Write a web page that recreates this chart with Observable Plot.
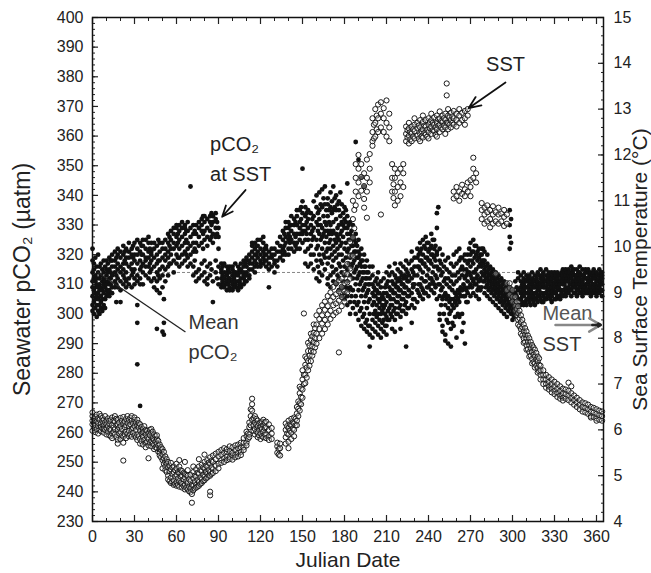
<!DOCTYPE html>
<html><head><meta charset="utf-8">
<script src="https://cdn.jsdelivr.net/npm/d3@7"></script>
<script src="https://cdn.jsdelivr.net/npm/@observablehq/plot@0.6"></script>
<style>body{margin:0;background:#fff;}</style>
</head><body><div id="chart"></div>
<script>
// Seawater pCO2 (µatm): rows of [julian day, readings...]
const pco2Rows = [
[0,301,306,309,314,318,322,311,303],[1,304,300,312,317,308,315],[2,307,302,311,305,319,313,309],[3,299,310,306,316,303,312],
[4,305,301,314,309,320,307],[5,312,303,308,316,300,310],[6,306,313,302,317,309,304],[7,311,305,315,301,308],[8,303,310,307,314,318,312],
[9,309,305,316,311,302],[10,313,306,310,318,308,315],[11,311,317,307,314],[12,308,315,312,319,306,310],
[13,314,310,318,312],[14,316,309,320,313,307,318],[16,311,318,314,321,309,316],[17,313,319,310,304],[18,320,315,312,317,322,309],
[20,316,311,319,314,321,308,304],[22,313,320,317,310,323,315],[23,318,312,321],[24,314,319,322,311,317,309],[26,321,316,312,319,324,310],
[28,317,322,313,320,315,309],[29,319,314,323],[30,315,320,324,312,318,310],[32,322,317,313,320,325,311,303,297,283],
[34,318,324,315,321,312,310,269],[35,320,316,323],[36,323,317,314,320,325,310],[38,319,325,316,322,313,318],[40,321,316,324,319,326,312],
[41,317,322,314],[42,324,318,321,315,311,320],[44,316,322,319,324,312,309],[46,320,314,323,317,311,308,295],[47,318,325,313],
[48,315,321,318,324,312,307],[50,319,324,316,322,313,309,294],[51,293,297,305],
[52,322,318,325,315,320,311],[54,319,324,327,321,316,313],[55,323,317,326],[56,325,320,328,317,322],[58,322,327,318,324,329,314],
[60,326,320,329,323,317,330],[61,324,319,327],[62,328,322,325,319,330,316],[64,323,329,326,320,331,317],[66,327,321,330,324,318,329],
[67,325,320,328],[68,322,328,324,331,319,316],[70,329,323,326,320,317,343],[72,324,330,321,327,316,313],[73,328,322,318],
[74,321,327,324,330,314,311],[76,326,331,323,329,315,312],[78,330,324,328,332,317,313],[79,327,322,333],[80,325,331,328,333,318,314,311],
[82,332,326,329,323,316,312,310],[84,328,333,325,331,317,313],[85,330,326,334,315],[86,331,327,333,324,311,304],[88,329,334,326,332,318,314],
[89,331,327,312],[90,326,322,329,316,310],
[92,314,310,317,312,309,315],[93,311,316,313],[94,309,314,312,317,310],[96,313,308,316,311,314,310],[97,310,315,312],
[98,312,316,309,314,311,308],[100,315,310,313,308,316,311],[101,312,309,314],[102,310,314,311,317,309,313],[104,313,309,316,311,308,314],
[105,311,315,310],[106,314,310,317,312,309,315],[108,316,312,310,318,313,314],[109,313,317,311],[110,318,314,311,316,313,319],
[112,315,320,313,317,312,318],
[114,321,317,323,315,319,324],[116,318,322,316,320,324,314],[117,320,323,317],[118,323,319,316,321,325],[120,320,325,318,322,317,316],
[122,324,319,321,326,317],[123,322,318,320],[124,318,322,320,316,323],[126,321,317,319,315,309],[128,319,322,316,320],
[130,317,320,314,318,322],[132,321,318,324,316],[134,323,319,326,321],
[136,325,320,328,322,318],[137,323,327,321],[138,329,324,320,326,331],[140,327,322,331,325,320,329],[141,324,330,326],
[142,322,328,333,325,330],[144,330,324,327,332,321],[145,326,331,323],[146,333,327,324,330,322,335],[148,329,335,325,331,327,322],
[149,332,327,336],[150,327,334,330,338,324,328,349],[152,336,330,325,333,328,321,317],[153,331,327,334],[154,329,325,332,335,322,316],
[156,323,330,327,334,320,317],[157,328,332,325],[158,326,333,320,329,338,315],[160,331,325,336,322,340,318,312],
[161,328,334,323,330,316],[162,335,327,320,332,341,314,311],[163,325,330,337,318],[164,329,336,322,342,326,317,313],
[165,333,327,339,320],[166,331,324,337,343,328,319,315],[167,326,335,321,330],[168,337,328,322,333,339,317,312,310],
[169,324,331,327,335,319],[170,330,336,325,341,322,328,313,309],[171,334,327,338,320,316],[172,328,335,323,343,331,318,314,311],
[173,336,325,339,321],[174,332,327,340,324,335,319,315,310],[175,329,337,322,326,313],[176,335,330,320,338,325,317,312,308],
[177,327,333,323,341,316],[178,331,324,337,320,328,314,309,306],[179,326,334,318,330,311],[180,329,322,336,316,332,313,307,305],
[181,324,331,319,335,309],[182,327,321,333,315,329,311,306,303,344],[183,322,330,317,325,308],[184,325,319,331,313,327,309,304,300],
[185,320,328,316,323,306],[186,323,317,330,312,326,308,302,320],[187,318,325,314,321,304],[188,321,315,327,310,324,306,300,358],
[189,316,323,312,319,303],[190,319,313,325,308,321,304,298,352],[191,314,320,310,317,301],[192,316,311,322,306,318,302,296,346],
[193,312,318,308,314,299],[194,314,309,320,304,316,300,295,343],[195,310,316,306,312,297],[196,312,307,318,302,314,298,294],
[197,308,314,304,310,296],[198,310,305,316,300,312,296,293,289],[200,307,303,313,298,310,295,292,316],
[201,304,309,300,306],[202,306,301,311,297,308,294],[203,303,308,299,312],[204,300,305,310,296,307,293,314],[205,302,307,298,304],
[206,305,300,309,295,311,292],[207,301,306,297,303],[208,307,302,312,298,305,294],[209,303,309,300,296],[210,304,299,310,296,307,293,314],
[211,301,306,298,311],[212,306,302,313,298,309,316],[213,303,308,300,305],[214,308,303,314,299,311,295],[215,305,310,301,307],
[216,307,302,313,298,310,294,317],[217,304,309,300,312],[218,309,304,315,300,311,306],[219,306,312,302,308],
[220,308,303,314,299,311,295,317],[221,305,310,301,313],[222,310,305,316,301,312,307],[223,307,313,303,309],
[224,309,304,315,300,312,289,318],[225,306,311,302,314],[226,311,306,317,302,313,308],[228,312,307,318,303,315,297,321],
[229,309,314,305,310],[230,310,305,316,302,313,319],
[232,313,308,319,304,316,322],[233,310,316,307,320],[234,315,310,321,306,318,324],[235,312,318,309,322],[236,314,308,320,305,317,325],
[237,311,317,307,323],[238,316,311,322,307,319,326],[239,313,319,309,324],[240,315,309,321,306,318,324],[241,312,318,310,322],
[242,317,312,323,308,320,327],[243,314,320,311,325],[244,316,310,322,307,319,325],[245,313,318,309,323],
[246,312,316,320,334,329,321,305],[247,336,315,310],
[248,310,315,306,318,300,298,322],[249,313,308,303,317],[250,309,314,305,320,296,294],[251,311,306,316,300],[252,307,312,303,318,293,291],
[253,310,305,315,298],[254,306,312,302,319,297,290],[255,309,304,314,300],[256,305,311,301,317,295,289],[257,308,303,313,297],
[258,310,305,316,302,320,296],[259,307,313,304,299],[260,311,306,317,303,321,292],[261,308,314,305,300],[262,312,307,318,304,322,299],
[263,309,315,306,319],[264,313,308,319,300,316,294],[265,310,315,306,297],[266,312,306,318,309,320,290],[267,315,308,313,304],
[268,311,317,307,320,314,304],[269,314,309,318,322],[270,316,310,320,313,324,306],[271,312,318,309,321],[272,317,311,321,314,325,307],
[273,314,319,310,323],[274,315,310,320,312,323,306],[275,313,318,308,321],[276,316,309,319,311,322,305],[277,312,317,308,320],
[278,314,318,309,322,316,320],
[279,313,317,311,322,318],[280,315,311,318,313,307,321],[281,312,316,309,314],[282,314,310,317,312,306,320],[283,311,315,308,313],
[284,313,309,316,311,305],[285,310,314,307,312],[286,312,308,315,310,304],[287,309,313,306,311],[288,311,307,314,309,303],
[289,308,312,305,310],[290,310,306,313,308,302],[291,307,311,304,309],[292,309,305,312,307,301],[293,306,310,303,308],
[294,308,304,311,306,300],[295,305,309,302,307],[296,307,303,310,305,299],[297,304,308,301,306],[298,306,302,309,304,322,326,330,335],
[299,303,307,300,324,332],[300,305,301,308,303,298],[301,302,306,299,304],[302,304,300,307,302,311],[303,301,306,303,309],
[304,303,308,305,312,300,314],
[306,305,309,303,311,307,313],[307,308,304,310,306],[308,306,310,303,312,308,314],[309,304,309,307,311],[310,307,303,311,305,309,313],
[311,309,305,312,307],[312,306,310,304,313,308,311],[313,308,303,311,306],[314,310,305,312,307,314,309],[315,306,311,304,309],
[316,309,305,313,307,311,303],[317,307,312,305,310],[318,311,306,309,314,304,308],[319,308,313,306,310],[320,310,305,312,307,315,309],
[321,307,311,304,313],[322,312,306,309,314,304,310],[323,309,305,311,307],[324,311,307,313,305,309,315],[325,308,312,306,310],
[326,313,308,310,306,314,311],[327,309,305,312,307],[328,311,306,314,309,304,312],[329,308,313,307,310],[330,310,305,312,307,314,309],
[331,307,311,305,313],[332,312,308,310,306,314,309],[333,309,313,306,311],[334,311,306,313,308,305,310],[335,308,312,307,314],
[336,310,306,313,308,315,311],
[337,312,308,314,310],[338,309,313,307,315,311,306],[339,311,314,308,312],[340,313,309,315,311,307,314],[341,310,314,308,312],
[342,312,308,316,310,306,313],[343,314,309,311,315],[344,311,307,313,309,315,310],[345,309,313,307,312],[346,313,310,315,308,311,306],
[347,310,314,308,312],[348,312,307,314,310,316,309],[349,309,313,311,307],[350,311,315,308,313,306,310],[351,313,309,312,308],
[352,310,314,307,312,315,309],[353,312,308,314,310],[354,314,310,312,307,315,311],[355,309,313,308,311],[356,311,307,314,309,313,306],
[357,313,310,308,312],[358,310,314,307,312,309,315],[359,312,308,313,310],[360,309,313,307,311,314,306],[361,311,308,313,309],
[362,313,309,315,310,307,312],[363,310,314,308,311],[364,312,308,314,306,310,313]
];
// Sea surface temperature (°C): rows of [julian day, readings...]
const sstRows = [
[0,6.12,6.3,5.98,6.2,6.38],[1,6.05,6.24,6.15],[2,6.28,6.1,5.95,6.2],[3,6.18,6.02,6.33],[4,6.08,6.25,5.92,6.15],[5,6.22,6.0,6.35],
[6,5.97,6.14,6.3,6.06],[7,6.2,6.03,6.26],[8,6.1,5.94,6.22,6.02],[9,6.16,6.3,6.0],[10,6.04,6.2,5.9,6.12],[11,6.25,6.08,5.96],
[12,6.14,5.88,6.2,6.02],[13,6.0,6.22,5.86],[14,6.1,5.92,6.27,5.82],[15,6.05,6.2,5.95],[16,6.18,5.9,6.3,6.02],[17,5.84,6.1,6.24],
[18,6.0,6.22,5.78,6.12,5.7],[19,5.92,6.16,6.05],[20,6.08,5.8,6.26,5.95],[21,6.2,5.88,6.02],[22,5.85,6.14,6.28,5.72,5.33],
[23,6.06,5.9,6.18],[24,5.96,6.24,5.82,6.1],[25,6.15,5.92,6.3],[26,5.86,6.08,6.22,5.98],[27,6.12,6.26,5.9],[28,6.02,5.85,6.2,6.3],
[29,5.94,6.14,6.04],[30,6.22,5.88,6.08,6.27],[31,6.0,6.16,5.84],[32,5.9,6.1,6.22,5.78],[33,6.05,5.86,6.15],[34,5.8,5.98,6.12,5.7],
[35,5.92,6.06,5.75],[36,5.85,5.68,6.02,5.95],[37,5.78,5.96,6.08],[38,5.9,5.72,6.0,5.62],[39,5.84,5.98,5.74],[40,5.66,5.92,5.8,5.38],
[41,5.88,5.72,6.0],[42,5.76,5.94,5.64,6.02],[43,5.82,5.7,5.96],[44,5.68,5.9,5.78,5.58],[45,5.74,5.86,5.62],[46,5.6,5.8,5.7,5.88],
[47,5.66,5.52,5.76],[48,5.5,5.68,5.58,5.44],[49,5.56,5.4,5.62],[50,5.46,5.58,5.34,5.16],[51,5.38,5.52,5.26],[52,5.2,5.42,5.3,5.12],
[53,5.08,5.26,5.36],[54,5.0,5.18,4.92,5.3],[55,5.1,4.88,5.22],[56,4.96,5.14,4.84,5.28],[57,5.04,4.86,5.18],[58,4.9,5.08,4.8,5.2],
[59,4.98,4.82,5.12],[60,4.86,5.02,4.78,5.16,5.26],[61,4.94,4.8,5.08],[62,4.88,5.06,4.76,5.2,5.34],[63,4.98,4.84,5.12],
[64,4.82,5.0,4.74,5.1],[65,4.92,4.78,5.06],[66,4.8,4.96,4.7,5.04,5.3],[67,4.88,4.74,5.02],[68,4.84,5.0,4.7,5.12],[69,4.76,4.92,4.66],
[70,4.72,4.88,4.64,5.02],[71,4.41,4.6,4.8],[72,4.78,4.94,4.68,5.08,5.2],[73,4.86,4.72,5.0],[74,4.8,4.98,4.74,5.14],[75,4.9,4.76,5.06],
[76,4.86,5.04,4.78,5.2,5.36],[77,4.96,4.82,5.12],[78,4.92,5.1,4.84,5.24],[79,5.02,4.88,5.18],[80,4.98,5.16,4.9,5.3,5.46],
[81,5.08,4.94,5.22],[82,5.04,5.2,4.96,5.34],[83,5.12,5.0,5.28],[84,5.08,5.26,5.0,5.4,4.57,4.65],[85,5.18,5.04,5.32],
[86,5.14,5.3,5.06,5.44],[88,5.22,5.36,5.1,5.48],[90,5.26,5.42,5.16,5.52],[92,5.34,5.46,5.28,5.56],[94,5.38,5.5,5.3,5.6],
[96,5.42,5.52,5.34,5.58],[98,5.4,5.54,5.36,5.64],[100,5.44,5.5,5.35,5.62],[102,5.46,5.56,5.4,5.66],[104,5.5,5.6,5.42,5.68],
[106,5.52,5.62,5.45,5.72],[108,5.62,5.72,5.56,5.82],[110,5.72,5.86,5.66,5.96],[111,5.8,5.92],[112,5.9,6.06,5.84,6.16],
[113,6.1,6.3,6.45],[114,6.22,6.42,6.68,6.56],[115,6.1,6.26,5.98],[116,6.02,6.16,6.3,5.9],[117,5.96,6.12,6.24],[118,5.94,6.08,6.2,5.84],
[119,6.0,6.14,5.88],[120,5.92,6.06,6.16,5.8],[121,6.02,6.18,5.86],[122,5.96,6.1,6.22,5.84],[123,6.04,5.9,6.16],[124,5.9,6.06,6.18,5.82],
[126,5.86,6.0,6.12,5.78],[128,5.92,6.04,5.8],[132,5.5,5.64,5.72],[133,5.46,5.58],[134,5.44,5.6,5.7],[138,5.84,6.0,6.14,5.7],
[139,5.92,6.08],[140,5.9,6.04,6.2,5.74,5.6],[141,5.98,6.12],[142,5.94,6.1,6.24,5.8],[143,6.02,6.16],[144,6.0,6.14,6.27,5.86],
[145,6.1,6.24],[146,6.2,6.36,6.5,6.1],[147,6.3,6.46,6.62],[148,6.42,6.58,6.8,6.94],[149,6.56,6.72,6.9],[150,6.7,6.88,7.1,7.3],
[151,8.54,7.0,7.2],[152,7.02,7.2,7.42,7.6],[153,7.14,7.36,7.56],[154,7.3,7.5,7.72,7.9],[155,7.4,7.62,7.84],[156,7.5,7.72,7.96,8.1],
[157,7.62,7.82,8.04],[158,7.7,7.92,8.12,8.3],[159,7.8,8.0,8.22],[160,7.88,8.1,8.3,8.5],[162,8.0,8.2,8.42,8.6],[164,8.1,8.32,8.5,8.72],
[166,8.2,8.4,8.62,8.8],[168,8.3,8.52,8.7,8.92],[170,8.42,8.6,8.82,9.0],[172,8.5,8.72,8.9,9.12],[174,8.56,8.76,8.96,9.2],
[176,8.6,8.82,9.02,9.26,7.69],[178,8.7,8.9,9.12,9.3],[180,8.8,9.02,9.2,9.42],[182,9.0,9.22,9.4,9.62],[184,9.3,9.52,9.8,10.1],
[186,9.8,10.2,10.6,11.0],[187,10.4,10.8],[188,10.9,11.2,11.5,11.8],[190,11.1,11.4,11.7,12.0],[192,11.22,11.52,11.8],
[194,11.04,11.32,11.6,10.85],[196,11.2,11.5,11.9,10.63],[198,11.4,11.7,12.02],[200,12.2,12.5,12.8,12.3],[201,12.36,12.66],
[202,12.4,12.7,13.0],[203,12.56,12.86],[204,12.5,12.8,13.1],[206,12.6,12.9,13.15,10.7],[208,12.5,12.8,13.02],[210,12.4,12.7,13.19],
[212,12.3,12.6,12.9],[214,11.2,11.5,11.8],[215,11.06,11.36],[216,10.9,11.2,11.5,11.7],[218,11.0,11.3,11.6],[220,11.1,11.4,11.7],
[222,11.3,11.6,11.8],[224,12.3,12.46,12.62],[225,12.38,12.54],[226,12.25,12.42,12.58,12.7],[227,12.34,12.5],[228,12.3,12.47,12.62],
[229,12.4,12.56],[230,12.36,12.52,12.66,12.8],[232,12.42,12.58,12.7],[233,12.35,12.64],[234,12.46,12.6,12.76,12.3],[235,12.52,12.4],
[236,12.38,12.56,12.72,12.86],[237,12.48,12.64],[238,12.44,12.62,12.76],[239,12.55,12.4],[240,12.5,12.66,12.8,12.36],[241,12.58,12.72],
[242,12.46,12.62,12.76,12.9],[243,12.54,12.7],[244,12.52,12.66,12.82],[245,12.6,12.44],[246,12.56,12.7,12.86,12.4],[247,12.64,12.78],
[248,12.5,12.66,12.8,12.95],[249,12.6,12.74],[250,12.56,12.72,12.86],[251,12.64,12.8],[252,12.6,12.76,12.9,12.46],[253,13.3,13.56,12.7],
[254,12.56,12.7,12.86,13.0],[255,12.66,12.82],[256,12.6,12.76,12.92],[257,12.7,12.84],[258,12.66,12.8,12.96,11.2,11.05],
[260,12.62,12.76,12.9,11.1,11.3],[262,12.7,12.86,13.0,11.0,11.2],[264,12.76,12.92,11.15,11.35],[266,12.66,12.8,12.96,11.1,11.25],
[268,12.86,13.0,11.2,11.4],[270,11.1,11.3,11.45],[272,11.5,11.7,11.94],[274,11.4,11.6],[278,10.6,10.8,10.95],[280,10.5,10.7,10.85],
[282,10.55,10.75,10.9],[284,10.6,10.8,10.42],[286,10.5,10.7,10.88],[288,10.55,10.75,9.41],[290,10.5,10.7,10.85],[292,10.55,10.72],
[294,10.45,10.65,10.8],[296,10.5,10.7,9.2,9.05],[298,9.1,8.95,9.2],[300,8.9,9.05,8.8],[302,8.76,8.9,8.6,8.7],[303,8.5,8.64,8.8],
[304,8.4,8.55,8.7,8.3],[305,8.26,8.44,8.6],[306,8.2,8.35,8.5,8.1],[307,8.06,8.24,8.4],[308,8.0,8.15,8.3,7.9],[309,7.92,8.08,8.22],
[310,7.85,8.0,8.15,7.75],[311,7.76,7.92,8.06],[312,7.7,7.85,8.0,7.6],[313,7.62,7.78,7.92],[314,7.55,7.7,7.85,7.45],[315,7.48,7.64,7.8],
[316,7.45,7.6,7.75,7.36],[317,7.4,7.54,7.68],[318,7.35,7.5,7.6,7.25],[319,7.28,7.42,7.56],[320,7.2,7.3,7.4,7.1],[322,7.1,7.2,7.3,7.0],
[324,7.0,7.1,7.2,6.92],[326,6.95,7.05,7.15,6.88],[328,6.9,7.0,7.1,6.82],[330,6.85,6.95,7.05,6.78],[332,6.8,6.9,7.0,6.72],
[334,6.75,6.85,6.95,6.68],[336,6.7,6.8,6.9,6.64],[338,6.68,6.78,6.88],[340,6.65,6.75,6.85,7.03],[342,6.6,6.7,6.8,6.95],
[344,6.55,6.65,6.75],[346,6.5,6.6,6.7],[348,6.45,6.55,6.65],[350,6.4,6.5,6.6],[352,6.38,6.48,6.58],[354,6.35,6.45,6.55],
[356,6.3,6.4,6.5,6.27],[358,6.28,6.38,6.48],[360,6.25,6.35,6.45,6.2],[362,6.22,6.32,6.42],[364,6.2,6.3,6.4]
];
const dayTicks = [0,30,60,90,120,150,180,210,240,270,300,330,360];
const pco2Ticks = [230,240,250,260,270,280,290,300,310,320,330,340,350,360,370,380,390,400];
const sstTicks = [4,5,6,7,8,9,10,11,12,13,14,15];
const meanPco2 = 314;
const meanSst = 8.29;

// annotation texts and arrows (data units of the pCO2 axis)
const notes = [
  {label:"pCO₂", day:84, val:357, color:"#222"},
  {label:"at SST", day:84, val:347, color:"#222"},
  {label:"Mean", day:68.6, val:297, color:"#333"},
  {label:"pCO₂", day:68.6, val:287, color:"#333"},
  {label:"Mean", day:321.4, val:300, color:"#555"},
  {label:"SST", day:321.4, val:289.6, color:"#333"}
];
const sstNote = [{label:"SST", day:295, val:384}];
const arrows = [
  {x1:109.3, y1:341.8, x2:92.6, y2:332.8},
  {x1:295, y1:378.1, x2:268.6, y2:369.4}
];
const meanPco2Pointer = [{x1:3.6, y1:314.1, x2:66.4, y2:293.9}];

const toP = t => 230 + (t - 4) * 170 / 11;
const fromP = p => 4 + (p - 230) * 11 / 170;

const pco2Points = pco2Rows.flatMap(([d, ...vs]) => vs.map(v => ({day: d, v})));
const sstPoints = sstRows.flatMap(([d, ...vs]) => vs.map(t => ({day: d, v: toP(t)})));
const meanSstArrow = [{x1:330.7, x2:363, y: toP(meanSst)}];
const meanSstHead = [{x1:357, x2:363, y: toP(meanSst)}];

const minorY = d3.range(230, 401, 2);
const minorSst = d3.range(40, 151, 2).map(t => toP(t / 10));
const minorX = d3.range(0, 366, 10);
const blank = () => "";

const chart = Plot.plot({
  width: 651, height: 573,
  marginLeft: 92, marginRight: 48, marginTop: 17, marginBottom: 52,
  style: {fontFamily: "'Liberation Sans', Arial, Helvetica, sans-serif", fontSize: "16px", color: "#222", background: "#fff"},
  x: {domain: [0, 365], label: null},
  y: {domain: [230, 400], label: null},
  marks: [
    Plot.axisY({anchor: "left", ticks: pco2Ticks, tickSize: 0, tickPadding: 9, label: null, fontSize: 16}),
    Plot.axisY({anchor: "right", ticks: sstTicks.map(toP), tickFormat: d => Math.round(fromP(d)), tickSize: 0, tickPadding: 10, label: null, fontSize: 16}),
    Plot.axisX({anchor: "bottom", ticks: dayTicks, tickSize: 0, tickPadding: 9, label: null, fontSize: 16}),
    Plot.axisY({anchor: "left", ticks: pco2Ticks, tickSize: 6, dx: 6, tickFormat: blank, label: null, strokeWidth: 1.2}),
    Plot.axisY({anchor: "left", ticks: minorY, tickSize: 3, dx: 3, tickFormat: blank, label: null}),
    Plot.axisY({anchor: "right", ticks: sstTicks.map(toP), tickSize: 6, dx: -6, tickFormat: blank, label: null, strokeWidth: 1.2}),
    Plot.axisY({anchor: "right", ticks: minorSst, tickSize: 3, dx: -3, tickFormat: blank, label: null}),
    Plot.axisX({anchor: "bottom", ticks: dayTicks, tickSize: 6, dy: -6, tickFormat: blank, label: null, strokeWidth: 1.2}),
    Plot.axisX({anchor: "bottom", ticks: minorX, tickSize: 3, dy: -3, tickFormat: blank, label: null}),
    Plot.axisX({anchor: "top", ticks: dayTicks, tickSize: 6, dy: 6, tickFormat: blank, label: null, strokeWidth: 1.2}),
    Plot.axisX({anchor: "top", ticks: minorX, tickSize: 3, dy: 3, tickFormat: blank, label: null}),
    Plot.ruleY([meanPco2], {stroke: "#777", strokeWidth: 0.9, strokeDasharray: "3,2"}),
    Plot.dot(pco2Points, {x: "day", y: "v", r: 2.4, fill: "#111", stroke: "none"}),
    Plot.dot(sstPoints, {x: "day", y: "v", r: 2.6, fill: "white", fillOpacity: 0.3, stroke: "#1a1a1a", strokeWidth: 1}),
    Plot.text(notes, {x: "day", y: "val", text: "label", fill: "color", textAnchor: "start", lineAnchor: "middle", fontSize: 20}),
    Plot.text(sstNote, {x: "day", y: "val", text: "label", fill: "#222", textAnchor: "middle", lineAnchor: "middle", fontSize: 20}),
    Plot.arrow(arrows, {x1: "x1", y1: "y1", x2: "x2", y2: "y2", stroke: "#111", strokeWidth: 1.8, headLength: 11, headAngle: 45}),
    Plot.link(meanPco2Pointer, {x1: "x1", y1: "y1", x2: "x2", y2: "y2", stroke: "#222", strokeWidth: 1.3}),
    Plot.arrow(meanSstArrow, {x1: "x1", x2: "x2", y1: "y", y2: "y", stroke: "#888", strokeWidth: 2.5, headLength: 8, headAngle: 60}),
    Plot.arrow(meanSstHead, {x1: "x1", x2: "x2", y1: "y", y2: "y", stroke: "#222", strokeWidth: 2.5, headLength: 8, headAngle: 60}),
    Plot.text(["Julian Date"], {text: d => d, frameAnchor: "bottom", dy: 39, textAnchor: "middle", lineAnchor: "middle", fontSize: 21, fill: "#222"}),
    Plot.text(["Seawater pCO₂ (µatm)"], {text: d => d, frameAnchor: "left", dx: -70, dy: 10, rotate: -90, textAnchor: "middle", lineAnchor: "middle", fontSize: 23, fill: "#222"}),
    Plot.text(["Sea Surface Temperature (°C)"], {text: d => d, frameAnchor: "right", dx: 37, rotate: -90, textAnchor: "middle", lineAnchor: "middle", fontSize: 21, fill: "#222"}),
    Plot.frame({stroke: "#111", strokeWidth: 1.5})
  ]
});
document.getElementById("chart").appendChild(chart);
</script>
</body></html>
